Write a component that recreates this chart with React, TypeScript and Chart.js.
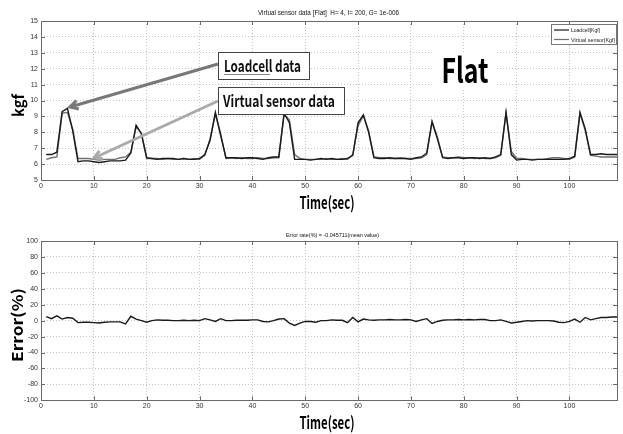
import React, { useEffect, useRef } from "react";
import { Chart, registerables } from "chart.js";
Chart.register(...registerables);

const TIME = [1,2,3,4,5,6,7,8,9,10,11,12,13,14,15,16,17,18,19,20,21,22,23,24,25,26,27,28,29,30,31,32,33,34,35,36,37,38,39,40,41,42,43,44,45,46,47,48,49,50,51,52,53,54,55,56,57,58,59,60,61,62,63,64,65,66,67,68,69,70,71,72,73,74,75,76,77,78,79,80,81,82,83,84,85,86,87,88,89,90,91,92,93,94,95,96,97,98,99,100,101,102,103,104,105,106,107,108,109];

const LOADCELL = [6.6,6.6,6.75,9.3,9.5,8.1,6.15,6.2,6.2,6.15,6.1,6.15,6.2,6.2,6.2,6.25,6.7,8.45,7.9,6.4,6.35,6.3,6.35,6.35,6.35,6.3,6.35,6.3,6.3,6.35,6.6,7.5,9.25,7.8,6.4,6.4,6.4,6.35,6.4,6.4,6.35,6.3,6.4,6.45,6.45,9.2,8.6,6.3,6.3,6.3,6.25,6.3,6.35,6.3,6.35,6.3,6.3,6.35,6.55,8.6,9.1,8.0,6.4,6.35,6.35,6.4,6.35,6.35,6.35,6.3,6.4,6.45,6.7,8.65,7.6,6.4,6.35,6.4,6.4,6.35,6.4,6.4,6.35,6.4,6.35,6.45,6.6,9.25,6.6,6.25,6.3,6.3,6.25,6.3,6.3,6.3,6.3,6.3,6.3,6.35,6.5,9.25,8.2,6.6,6.6,6.65,6.6,6.6,6.6];

const VIRTUAL = [6.3,6.4,6.45,9.2,9.25,8.2,6.35,6.35,6.35,6.3,6.25,6.3,6.3,6.3,6.4,6.45,6.75,8.35,7.95,6.35,6.35,6.35,6.3,6.35,6.3,6.3,6.35,6.3,6.35,6.3,6.55,7.6,9.15,7.9,6.35,6.4,6.35,6.4,6.35,6.35,6.4,6.35,6.35,6.4,6.4,9.1,8.8,6.6,6.35,6.3,6.3,6.3,6.3,6.35,6.3,6.3,6.35,6.3,6.6,8.4,9.05,8.1,6.45,6.4,6.4,6.35,6.35,6.4,6.35,6.35,6.35,6.4,6.6,8.7,7.7,6.45,6.4,6.4,6.45,6.4,6.4,6.35,6.4,6.35,6.35,6.4,6.55,9.2,6.8,6.35,6.35,6.3,6.3,6.3,6.3,6.35,6.4,6.4,6.35,6.3,6.45,9.2,8.1,6.55,6.5,6.45,6.45,6.45,6.45];

const ERROR = [5,2.5,6,2,4,3,-2.5,-2,-2,-2.5,-3,-2,-1.5,-1.5,-1.5,-4,5.5,2,0,-2,0,1,0.5,0.5,0,0,0.5,0,0.5,0,2.5,1,-1,2.5,0,0,0.5,0.5,0.5,1,1,-1,-1.5,0,2,2.5,-3,-6,-3,-1,-1,-2,0,0,1,0.5,0.5,-2.5,4,-1.5,2,1,0.5,1,1,1.5,1,1,1.5,1,-1,1,2.5,-3.5,-1,0.5,1,1,1.5,1,1.5,1,1.5,1.5,0,0,1,-1,-3,-2,-1,0,-0.5,0,0,0,-0.5,-2,-2.5,-1,2,-2,4,1,2.5,4,4,4.5,4.5];

const SERIES_NAMES = ["Loadcell[Kgf]", "Virtual sensor[Kgf]"];
const TOP_TITLE = "Virtual sensor data [Flat]  H= 4, I= 200, G= 1e-006";
const BOTTOM_TITLE = "Error rate(%) = -0.045711(mean value)";
const X_TITLE = "Time(sec)";
const TOP_Y_TITLE = "kgf";
const BOTTOM_Y_TITLE = "Error(%)";
const LABEL_LOADCELL = "Loadcell data";
const LABEL_VIRTUAL = "Virtual sensor data";
const LABEL_FLAT = "Flat";

const W = 623;
const H_TOP = 217;
const H_BOT = 217;
const TICK_FONT = { family: '"Liberation Sans Narrow", "Liberation Sans", Arial, sans-serif', size: 7 };
const BIG_FONT = '"Noto Sans CJK KR", "Noto Sans", sans-serif';
const SMALL_FONT = '"Liberation Sans Narrow", "Liberation Sans", Arial, sans-serif';

function fitText(ctx: CanvasRenderingContext2D, text: string, x: number, y: number, width: number, font: string, color: string, align: CanvasTextAlign = "center", rotate = 0) {
  ctx.save();
  ctx.font = font;
  ctx.fillStyle = color;
  const w = ctx.measureText(text).width;
  ctx.translate(x, y);
  if (rotate) ctx.rotate(rotate);
  ctx.scale(width / w, 1);
  ctx.textAlign = align;
  ctx.textBaseline = "alphabetic";
  ctx.fillText(text, 0, 0);
  ctx.restore();
}

function arrow(ctx: CanvasRenderingContext2D, x1: number, y1: number, x2: number, y2: number, color: string, width: number) {
  ctx.save();
  ctx.strokeStyle = color;
  ctx.lineWidth = width;
  ctx.lineCap = "butt";
  ctx.beginPath();
  ctx.moveTo(x1, y1);
  ctx.lineTo(x2, y2);
  ctx.stroke();
  const a = Math.atan2(y1 - y2, x1 - x2);
  const L = 9;
  ctx.lineJoin = "miter";
  ctx.beginPath();
  ctx.moveTo(x2 + L * Math.cos(a + 0.5), y2 + L * Math.sin(a + 0.5));
  ctx.lineTo(x2, y2);
  ctx.lineTo(x2 + L * Math.cos(a - 0.5), y2 + L * Math.sin(a - 0.5));
  ctx.stroke();
  ctx.restore();
}

function drawFrame(chart: any) {
  const ctx: CanvasRenderingContext2D = chart.ctx;
  const a = chart.chartArea;
  const xs = chart.scales.x;
  const ys = chart.scales.y;
  ctx.save();
  ctx.strokeStyle = "#6a6a6a";
  ctx.lineWidth = 1;
  ctx.beginPath();
  xs.ticks.forEach((t: any) => {
    const px = Math.round(xs.getPixelForValue(t.value)) + 0.5;
    ctx.moveTo(px, a.bottom);
    ctx.lineTo(px, a.bottom - 4);
    ctx.moveTo(px, a.top);
    ctx.lineTo(px, a.top + 4);
  });
  ys.ticks.forEach((t: any) => {
    const py = Math.round(ys.getPixelForValue(t.value)) + 0.5;
    ctx.moveTo(a.left, py);
    ctx.lineTo(a.left + 4, py);
    ctx.moveTo(a.right, py);
    ctx.lineTo(a.right - 4, py);
  });
  ctx.stroke();
  ctx.strokeRect(Math.round(a.left) + 0.5, Math.round(a.top) + 0.5, Math.round(a.right - a.left), Math.round(a.bottom - a.top));
  ctx.restore();
}

const whiteBg = {
  id: "whiteBg",
  beforeDraw(chart: any) {
    const ctx = chart.ctx;
    ctx.save();
    ctx.fillStyle = "#fff";
    ctx.fillRect(0, 0, chart.width, chart.height);
    ctx.restore();
  },
};

const topDeco = {
  id: "topDeco",
  afterDraw(chart: any) {
    const ctx: CanvasRenderingContext2D = chart.ctx;
    drawFrame(chart);
    fitText(ctx, TOP_TITLE, 328.5, 14.5, 141, `7px ${SMALL_FONT}`, "#111");

    // legend
    ctx.save();
    ctx.fillStyle = "#fff";
    ctx.fillRect(551, 24, 65, 20);
    ctx.strokeStyle = "#777";
    ctx.lineWidth = 1;
    ctx.strokeRect(551.5, 24.5, 65, 20);
    ctx.lineWidth = 1.2;
    ctx.strokeStyle = "#1a1a1a";
    ctx.beginPath(); ctx.moveTo(554, 30); ctx.lineTo(569, 30); ctx.stroke();
    ctx.strokeStyle = "#707070";
    ctx.beginPath(); ctx.moveTo(554, 39.5); ctx.lineTo(569, 39.5); ctx.stroke();
    ctx.restore();
    fitText(ctx, SERIES_NAMES[0], 571, 32, 29, `6px ${SMALL_FONT}`, "#222", "left");
    fitText(ctx, SERIES_NAMES[1], 571, 41.5, 44, `6px ${SMALL_FONT}`, "#222", "left");

    // annotation arrows
    arrow(ctx, 218, 64, 70, 107, "#787878", 3);
    arrow(ctx, 218, 101, 94, 158, "#aaaaaa", 3);

    // annotation boxes
    ctx.save();
    ctx.fillStyle = "#fff";
    ctx.strokeStyle = "#444";
    ctx.lineWidth = 1;
    ctx.fillRect(218, 52, 91, 27);
    ctx.strokeRect(218.5, 52.5, 91, 27);
    ctx.fillRect(218, 87, 126, 27);
    ctx.strokeRect(218.5, 87.5, 126, 27);
    ctx.restore();
    fitText(ctx, LABEL_LOADCELL, 224, 72, 77, `bold 16px ${BIG_FONT}`, "#111", "left");
    ctx.save();
    ctx.strokeStyle = "#888";
    ctx.lineWidth = 1;
    ctx.beginPath(); ctx.moveTo(224, 74.5); ctx.lineTo(270, 74.5); ctx.stroke();
    ctx.restore();
    fitText(ctx, LABEL_VIRTUAL, 223, 106.5, 112, `bold 16px ${BIG_FONT}`, "#111", "left");

    // Flat
    ctx.save();
    ctx.fillStyle = "#fff";
    ctx.fillRect(434, 52, 62, 38);
    ctx.restore();
    fitText(ctx, LABEL_FLAT, 465, 83, 47, `bold 34px ${BIG_FONT}`, "#000");

    // axis titles
    fitText(ctx, TOP_Y_TITLE, 24, 105.5, 23, `bold 15px ${BIG_FONT}`, "#000", "center", -Math.PI / 2);
    fitText(ctx, X_TITLE, 327, 209, 55, `bold 17px ${BIG_FONT}`, "#000");
  },
};

const botDeco = {
  id: "botDeco",
  afterDraw(chart: any) {
    const ctx: CanvasRenderingContext2D = chart.ctx;
    drawFrame(chart);
    ctx.save();
    ctx.translate(0, -H_TOP);
    fitText(ctx, BOTTOM_TITLE, 332.5, 237, 93, `6px ${SMALL_FONT}`, "#111");
    fitText(ctx, BOTTOM_Y_TITLE, 23, 325, 74, `bold 15px ${BIG_FONT}`, "#000", "center", -Math.PI / 2);
    fitText(ctx, X_TITLE, 327, 429, 55, `bold 17px ${BIG_FONT}`, "#000");
    ctx.restore();
  },
};

function xScale() {
  return {
    type: "linear" as const,
    min: 0,
    max: 109,
    afterFit: (s: any) => { s.height = 14; },
    ticks: { stepSize: 10, includeBounds: false, font: TICK_FONT, color: "#333", padding: 2, maxRotation: 0, autoSkip: false },
    grid: { color: "#c4c4c4", drawTicks: false, lineWidth: 1 },
    border: { display: false, dash: [1, 2] },
  };
}

function yScale(min: number, max: number, step: number) {
  return {
    type: "linear" as const,
    min,
    max,
    afterFit: (s: any) => { s.width = 20; },
    ticks: { stepSize: step, font: TICK_FONT, color: "#333", padding: 3, autoSkip: false },
    grid: { color: "#c4c4c4", drawTicks: false, lineWidth: 1 },
    border: { display: false, dash: [1, 2] },
  };
}

export default function App() {
  const topRef = useRef<HTMLCanvasElement>(null);
  const botRef = useRef<HTMLCanvasElement>(null);

  useEffect(() => {
    const top = new Chart(topRef.current!, {
      type: "line",
      data: {
        datasets: [
          {
            label: SERIES_NAMES[0],
            data: TIME.map((t, i) => ({ x: t, y: LOADCELL[i] })),
            borderColor: "#1a1a1a",
            borderWidth: 1.4,
            pointRadius: 0,
            tension: 0,
          },
          {
            label: SERIES_NAMES[1],
            data: TIME.map((t, i) => ({ x: t, y: VIRTUAL[i] })),
            borderColor: "#707070",
            borderWidth: 1.4,
            pointRadius: 0,
            tension: 0,
          },
        ],
      },
      options: {
        responsive: false,
        animation: false,
        layout: { padding: { left: 21, right: 6, top: 21, bottom: 23 } },
        plugins: { legend: { display: false }, title: { display: false }, tooltip: { enabled: false } },
        scales: { x: xScale(), y: yScale(5, 15, 1) },
      },
      plugins: [whiteBg, topDeco],
    });
    const bot = new Chart(botRef.current!, {
      type: "line",
      data: {
        datasets: [
          {
            label: "Error",
            data: TIME.map((t, i) => ({ x: t, y: ERROR[i] })),
            borderColor: "#1a1a1a",
            borderWidth: 1.4,
            pointRadius: 0,
            tension: 0,
          },
        ],
      },
      options: {
        responsive: false,
        animation: false,
        layout: { padding: { left: 21, right: 6, top: 24, bottom: 19.7 } },
        plugins: { legend: { display: false }, title: { display: false }, tooltip: { enabled: false } },
        scales: { x: xScale(), y: yScale(-100, 100, 20) },
      },
      plugins: [whiteBg, botDeco],
    });
    return () => {
      top.destroy();
      bot.destroy();
    };
  }, []);

  return (
    <div style={{ position: "fixed", left: 0, top: 0, width: W, height: H_TOP + H_BOT, background: "#fff" }}>
      <canvas ref={topRef} width={W} height={H_TOP} style={{ position: "absolute", left: 0, top: 0, width: W, height: H_TOP }} />
      <canvas ref={botRef} width={W} height={H_BOT} style={{ position: "absolute", left: 0, top: H_TOP, width: W, height: H_BOT }} />
    </div>
  );
}
